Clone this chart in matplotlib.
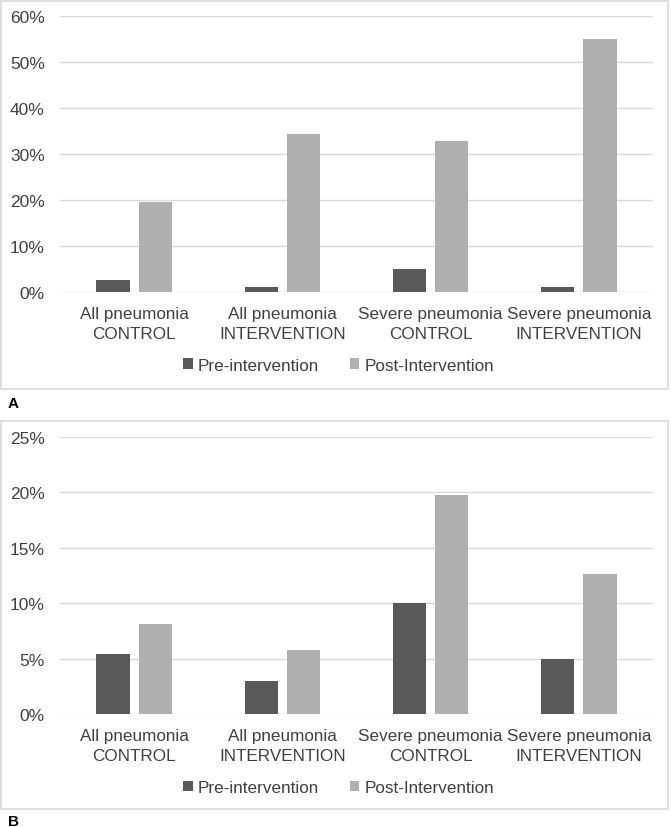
import matplotlib.pyplot as plt
from matplotlib.patches import Rectangle
from matplotlib.ticker import PercentFormatter
import numpy as np

plt.rcParams['font.family'] = ['Liberation Sans', 'DejaVu Sans']

categories = ['All pneumonia\nCONTROL', 'All pneumonia\nINTERVENTION',
              'Severe pneumonia\nCONTROL', 'Severe pneumonia\nINTERVENTION']
series_names = ['Pre-intervention', 'Post-Intervention']

pre_a = [2.6, 1.0, 5.0, 1.0]
post_a = [19.5, 34.4, 32.9, 54.9]

pre_b = [5.4, 3.0, 10.0, 5.0]
post_b = [8.1, 5.8, 19.8, 12.6]

pre_color = '#595959'
post_color = '#b0b0b0'
grid_color = '#d9d9d9'
text_color = '#404040'

W, H = 671, 828
fig = plt.figure(figsize=(W / 100, H / 100), dpi=100)


def px_axes(left, top, right, bottom):
    return [left / W, 1 - bottom / H, (right - left) / W, (bottom - top) / H]


def panel(ax, pre, post, ymax, step):
    x = np.arange(len(categories))
    w = 0.225
    ax.bar(x - 0.1425, pre, w, color=pre_color, label=series_names[0], zorder=3)
    ax.bar(x + 0.1425, post, w, color=post_color, label=series_names[1], zorder=3)
    ax.set_xlim(-0.5, len(categories) - 0.5)
    ax.set_ylim(0, ymax)
    ax.set_yticks(np.arange(0, ymax + 0.01, step))
    ax.yaxis.set_major_formatter(PercentFormatter(decimals=0))
    ax.set_xticks(x)
    ax.set_xticklabels(categories, fontsize=12.3, color=text_color, linespacing=1.4)
    ax.tick_params(axis='y', labelsize=12.5, labelcolor=text_color, length=0, pad=11)
    ax.tick_params(axis='x', length=0, pad=10)
    ax.grid(axis='y', color=grid_color, linewidth=1, zorder=0)
    ax.set_axisbelow(True)
    for s in ax.spines.values():
        s.set_visible(False)
    ax.legend(loc='center', bbox_to_anchor=(0.47, -0.265), ncol=2, frameon=False,
              fontsize=12.3, handlelength=0.55, handleheight=0.55, handletextpad=0.3,
              columnspacing=1.8, labelcolor=text_color)


# panel A
fig.patches.append(Rectangle((1 / W, 1 - 390 / H), 667 / W, 388 / H, transform=fig.transFigure,
                             fill=False, edgecolor=grid_color, linewidth=1.2))
ax1 = fig.add_axes(px_axes(60, 17, 653, 293))
panel(ax1, pre_a, post_a, 60, 10)
fig.text(8 / W, 1 - 404 / H, 'A', fontsize=11, fontweight='bold', va='center', color='black')

# panel B
fig.patches.append(Rectangle((1 / W, 1 - 810 / H), 667 / W, 388 / H, transform=fig.transFigure,
                             fill=False, edgecolor=grid_color, linewidth=1.2))
ax2 = fig.add_axes(px_axes(60, 438, 653, 715))
panel(ax2, pre_b, post_b, 25, 5)
fig.text(8 / W, 1 - 822 / H, 'B', fontsize=11, fontweight='bold', va='center', color='black')

plt.savefig('out.png', dpi=100)
